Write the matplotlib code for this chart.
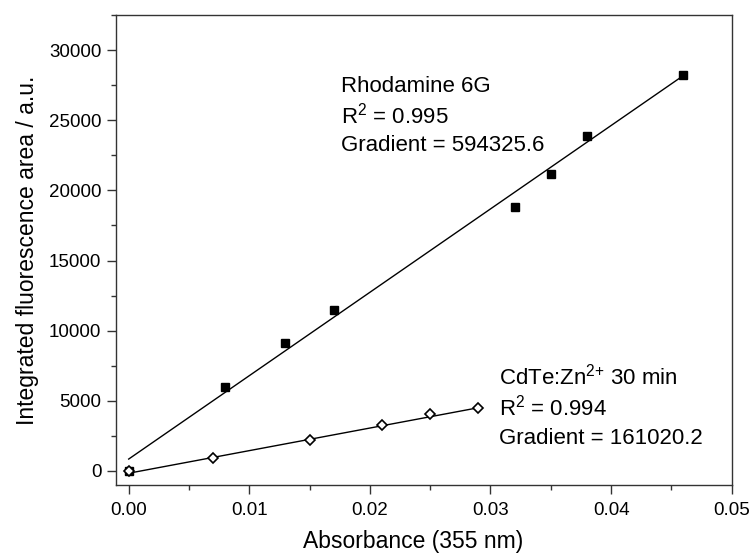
import numpy as np
import matplotlib
matplotlib.use("Agg")
import matplotlib.pyplot as plt
from matplotlib.ticker import MultipleLocator, FuncFormatter

plt.rcParams['font.family'] = ['Liberation Sans', 'DejaVu Sans']
plt.rcParams['mathtext.fontset'] = 'custom'
plt.rcParams['mathtext.rm'] = 'Liberation Sans'
plt.rcParams['mathtext.it'] = 'Liberation Sans'

# Data
rh_x = [0.0, 0.008, 0.013, 0.017, 0.032, 0.035, 0.038, 0.046]
rh_y = [0, 6000, 9100, 11500, 18800, 21200, 23900, 28200]
cd_x = [0.0, 0.007, 0.015, 0.021, 0.025, 0.029]
cd_y = [0, 900, 2180, 3270, 4050, 4460]

rh_slope, rh_icpt = 594325.6, 850
cd_slope, cd_icpt = 161020.2, -160

fig = plt.figure(figsize=(7.51, 5.58), dpi=100)
ax = fig.add_axes([0.1545, 0.1308, 0.8198, 0.8423])

xl = np.array([0.0, max(rh_x)])
ax.plot(xl, rh_icpt + rh_slope * xl, color='black', lw=1.0, zorder=2)
xl2 = np.array([0.0, max(cd_x)])
ax.plot(xl2, cd_icpt + cd_slope * xl2, color='black', lw=1.0, zorder=2)

ax.plot(rh_x, rh_y, ls='none', marker='s', ms=5.5, color='black', zorder=3)
ax.plot(cd_x, cd_y, ls='none', marker='D', ms=5, mfc='white', mec='black',
        mew=1.2, zorder=4)

ax.set_xlim(-0.00105, 0.05)
ax.set_ylim(-1000, 32500)
ax.xaxis.set_major_locator(MultipleLocator(0.01))
ax.xaxis.set_minor_locator(MultipleLocator(0.005))
ax.yaxis.set_major_locator(MultipleLocator(5000))
ax.yaxis.set_minor_locator(MultipleLocator(2500))
ax.xaxis.set_major_formatter(FuncFormatter(lambda v, p: f"{v:.2f}"))
ax.yaxis.set_major_formatter(FuncFormatter(lambda v, p: f"{v:.0f}"))

ax.tick_params(which='both', direction='out', top=False, right=False,
               labelsize=13.5, color='#333333', width=1.0)
ax.tick_params(which='major', length=6.5, pad=4)
ax.tick_params(axis='x', which='major', pad=6)
ax.tick_params(which='minor', length=3.5)
for s in ax.spines.values():
    s.set_color('#333333')
    s.set_linewidth(1.0)

ax.set_xlabel('Absorbance (355 nm)', fontsize=16.5)
ax.xaxis.set_label_coords(0.482, -0.095)
ax.set_ylabel('Integrated fluorescence area / a.u.', fontsize=16.5, labelpad=7)

fs = 16
ax.text(0.01764, 27006, 'Rhodamine 6G', fontsize=fs, va='baseline')
ax.text(0.01764, 24800, r'R$^2$ = 0.995', fontsize=fs, va='baseline')
ax.text(0.01764, 22795, 'Gradient = 594325.6', fontsize=fs, va='baseline')
ax.text(0.03068, 6166, r'CdTe:Zn$^{2{+}}$ 30 min', fontsize=fs, va='baseline')
ax.text(0.03068, 3962, r'R$^2$ = 0.994', fontsize=fs, va='baseline')
ax.text(0.03068, 1899, 'Gradient = 161020.2', fontsize=fs, va='baseline')

fig.savefig('out.png', dpi=100)
